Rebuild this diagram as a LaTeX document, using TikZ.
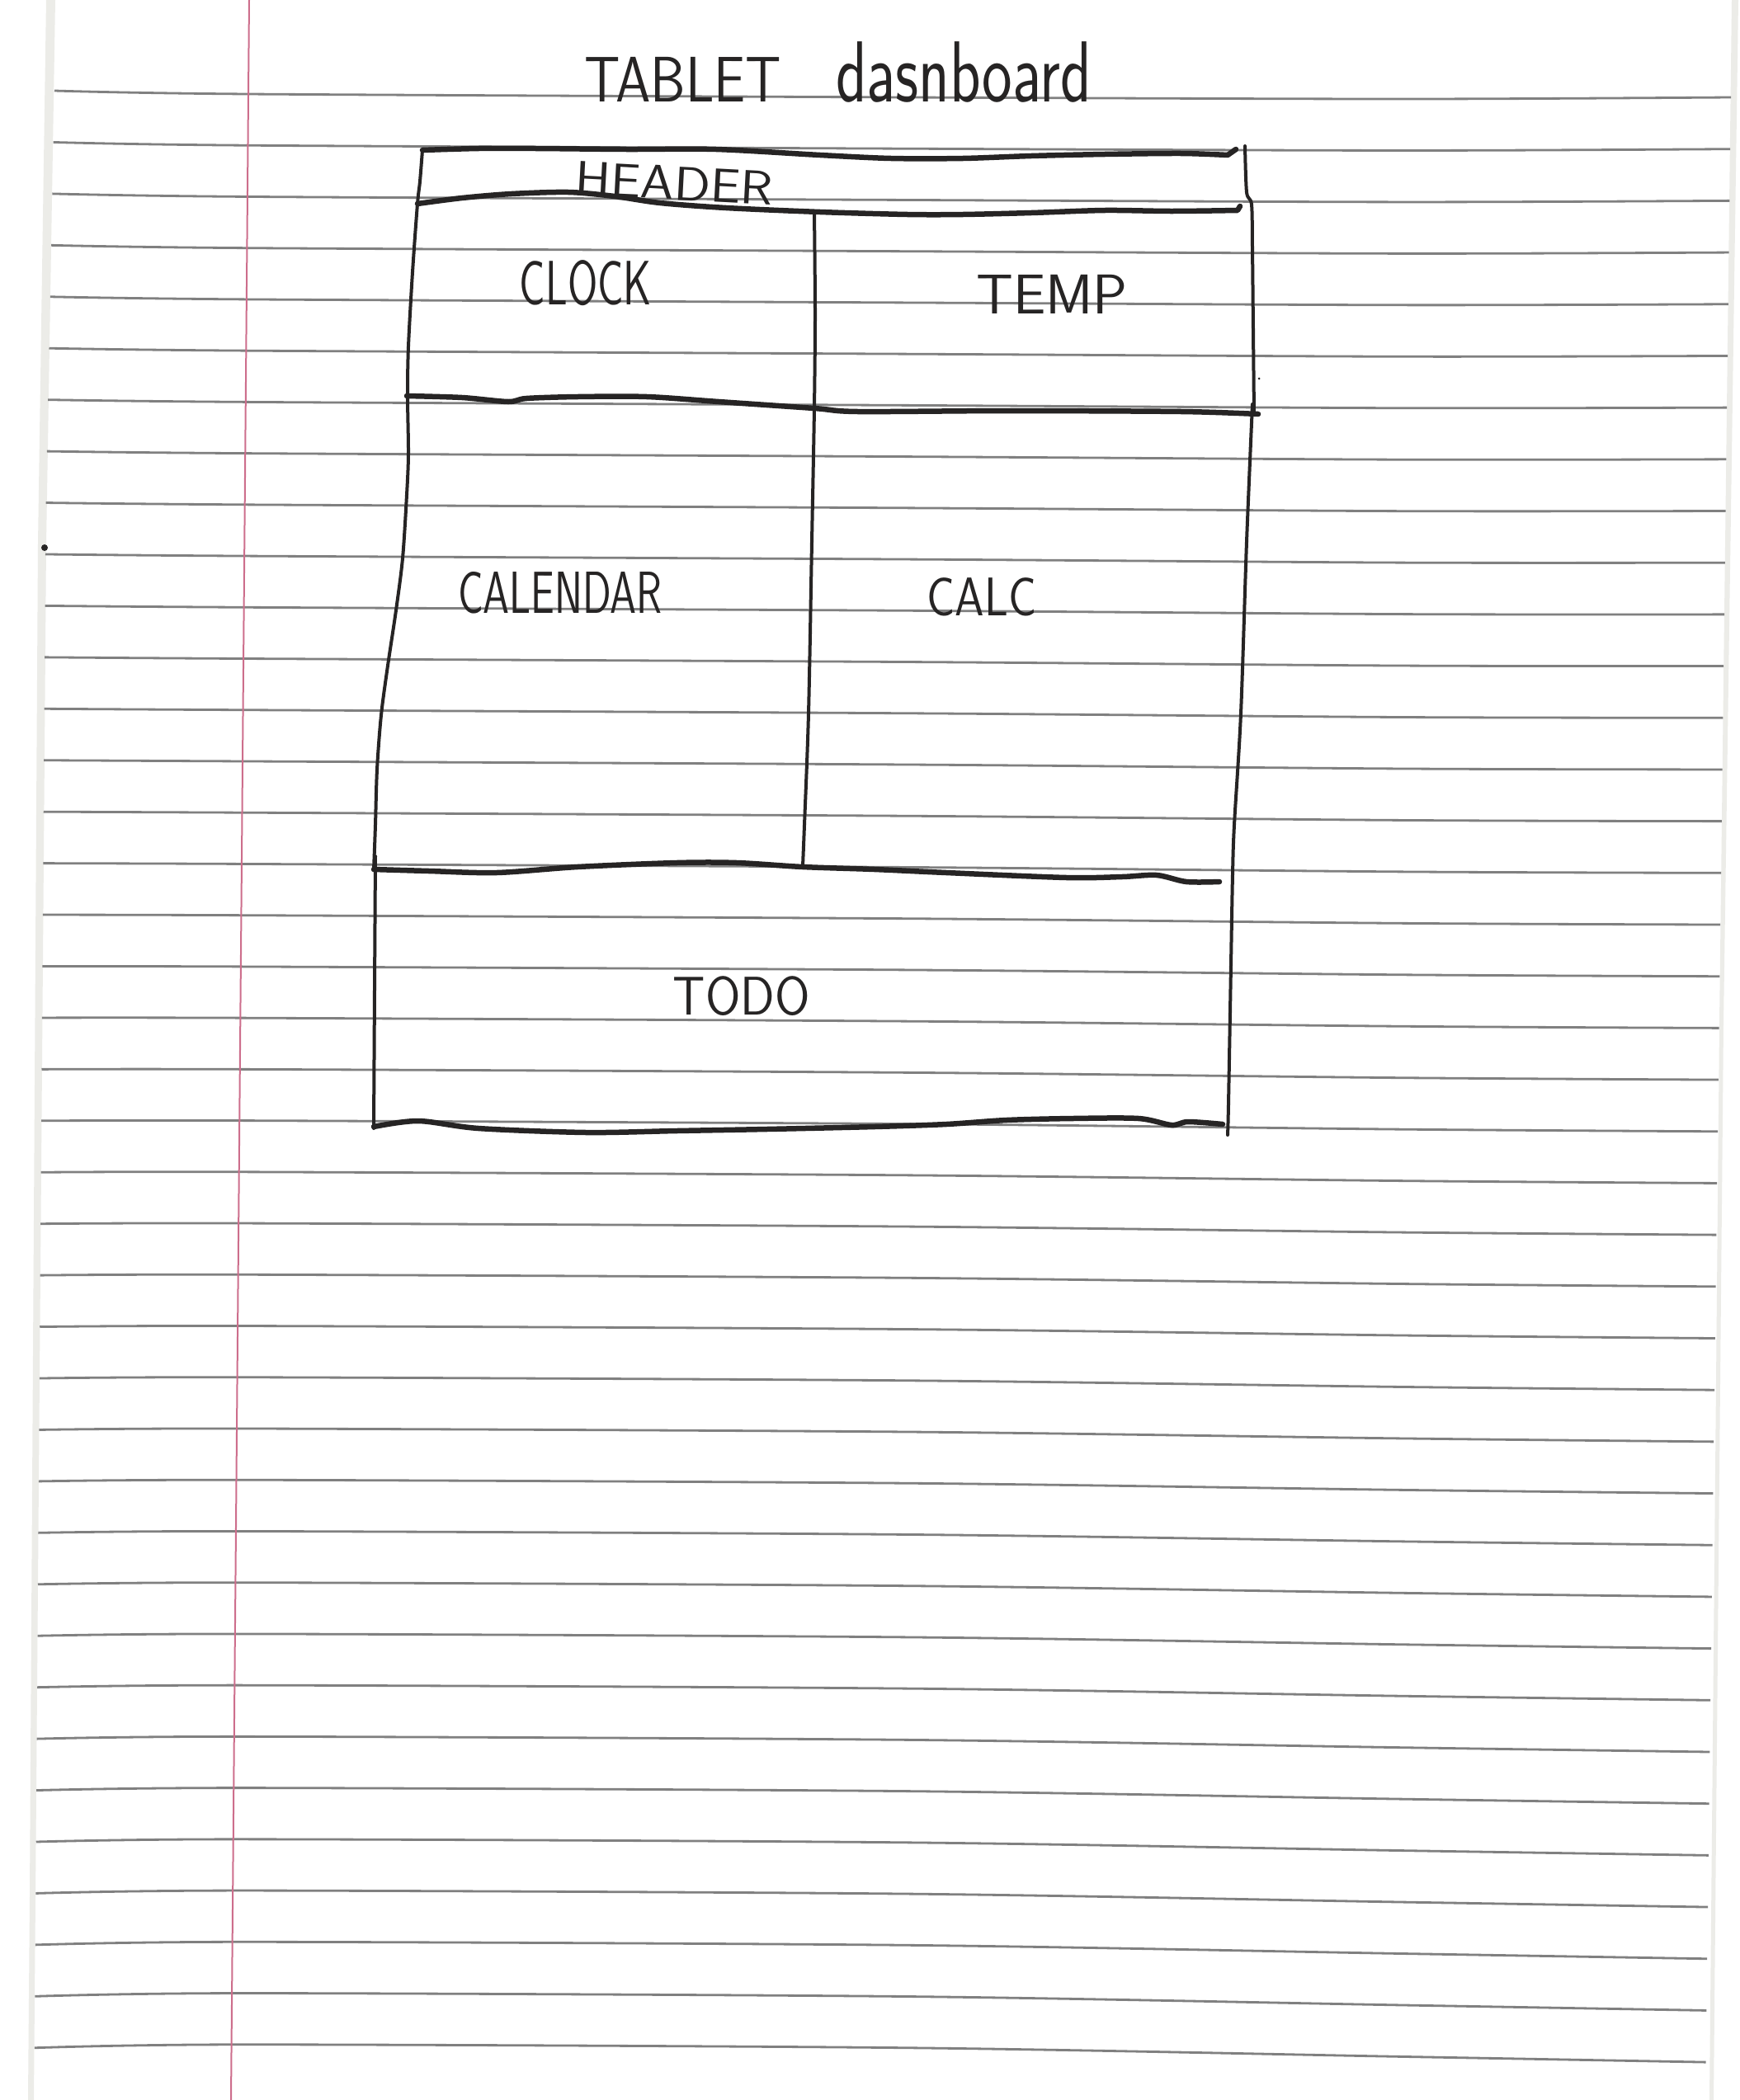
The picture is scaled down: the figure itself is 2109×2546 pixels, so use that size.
\documentclass[tikz,border=0pt]{standalone}
\usepackage{graphicx}
\definecolor{ink}{RGB}{38,36,36}
\definecolor{rulegray}{RGB}{128,128,128}
\definecolor{margincol}{RGB}{205,110,140}
\definecolor{edgegray}{RGB}{236,236,232}
\tikzset{
  ruled/.style={draw=rulegray, line width=2.8},
  marginline/.style={draw=margincol, line width=2},
  penh/.style={draw=ink, line width=6.5, line cap=round, line join=round},
  penv/.style={draw=ink, line width=4, line cap=round, line join=round},
  hand/.style={text=ink, inner sep=0pt, outer sep=0pt},
}
\begin{document}
\begin{tikzpicture}[x=1pt, y=-1pt]
\useasboundingbox (0,0) rectangle (2109,2546);
\fill[white] (0,0) rectangle (2109,2546);

% paper edges
\fill[edgegray] (56,0) -- (67,0) -- (56,660) -- (43,2300) -- (41,2546) -- (34,2546) -- (36,2300) -- (46,660) -- cycle;
\fill[edgegray] (2099,0) -- (2107,0) -- (2089,1240) -- (2077,2546) -- (2072,2546) -- (2084,1240) -- cycle;

% ruled lines of the notebook page
\foreach \k in {0,...,38} {
  \pgfmathsetmacro\ym{114+62.23*\k}
  \pgfmathsetmacro\xl{\k<9 ? 66-1.3*\k : 55-0.45*(\k-9)}
  \pgfmathsetmacro\yl{\ym-4+8*\k/38}
  \pgfmathsetmacro\xr{2098-0.8*\k}
  \pgfmathsetmacro\yr{\ym+4+16*\k/35}
  \pgfmathsetmacro\ya{\ym+4}
  \pgfmathsetmacro\yb{\ym+6+8*\k/35}
  \draw[ruled] plot[smooth] coordinates {(\xl,\yl) (300,\ym) (1100,\ya) (1700,\yb) (\xr,\yr)};
}

% red margin
\draw[marginline] (302,0) -- (280,2546);

% title
\node[hand, anchor=base west] (title) at (708,123)
  {\sffamily\scalebox{0.87}[1]{\fontsize{78}{78}\selectfont TABLET}\hspace{66pt}\scalebox{0.74}[1]{\fontsize{105}{105}\selectfont dasnboard}};

% horizontal strokes of the layout
\draw[penh] plot[smooth, tension=0.5] coordinates {(512,182) (580,180) (650,180) (760,181) (868,181) (994,188) (1080,192) (1167,192) (1250,189) (1339,187) (1432,186) (1488,188)} -- (1498,181);
\draw[penh] plot[smooth, tension=0.5] coordinates {(506,247) (560,240) (620,235) (689,233) (745,238) (800,246) (880,252) (994,257) (1100,260) (1167,260) (1250,258) (1339,255) (1420,256) (1500,255)} -- (1503,250);
\draw[penh] plot[smooth, tension=0.5] coordinates {(493,480) (560,482) (616,487) (638,483) (700,481) (784,481) (871,487) (987,495) (1040,499) (1222,498) (1432,499) (1525,502)};
\draw[penh] plot[smooth, tension=0.5] coordinates {(453,1054) (520,1056) (602,1058) (700,1051) (820,1046) (893,1046) (973,1051) (1060,1054) (1147,1058) (1293,1064) (1360,1063) (1402,1061) (1438,1069) (1478,1069)};
\draw[penh] plot[smooth, tension=0.5] coordinates {(453,1366) (507,1359) (580,1368) (711,1373) (820,1371) (929,1369) (1060,1366) (1147,1363) (1220,1358) (1300,1356) (1380,1356) (1420,1364) (1440,1360) (1482,1363)};

% vertical strokes of the layout
\draw[penv] plot[smooth] coordinates {(512,182) (509,220) (506,247) (500,330) (495,420) (494,480) (495,550) (493,600) (488,677) (480,740) (470,807) (462,867) (457,933) (455,1000) (453,1055)};
\draw[penv] (455,1038) -- (454,1200) -- (453,1368);
\draw[penv] plot[smooth] coordinates {(987,257) (988,380) (987,494) (984,657) (980,865) (975,1000) (973,1050)};
\draw[penv] plot[smooth] coordinates {(1509,177) (1511,233) (1517,248) (1518,300) (1519,400) (1520,503)};
\draw[penv] plot[smooth] coordinates {(1518,490) (1511,657) (1504,865) (1496,1000) (1494,1060) (1492,1170) (1489,1339) (1488,1376)};

% stray pen marks
\fill[ink] (54,664) circle (4);
\fill[ink] (1526,459) circle (1.5);

% section labels
\node[hand, rotate=-3, xscale=1.12, font=\sffamily\fontsize{58}{58}\selectfont] (header) at (817,222) {HEADER};
\node[hand, xscale=0.69, font=\sffamily\fontsize{76}{76}\selectfont] (clock) at (710,343) {CLOCK};
\node[hand, xscale=1.03, font=\sffamily\fontsize{68}{68}\selectfont] (temp) at (1275,357) {TEMP};
\node[hand, xscale=0.71, font=\sffamily\fontsize{72}{72}\selectfont] (calendar) at (679,719) {CALENDAR};
\node[hand, xscale=0.86, font=\sffamily\fontsize{66}{66}\selectfont] (calc) at (1190,724) {CALC};
\node[hand, xscale=0.93, font=\sffamily\fontsize{66}{66}\selectfont] (todo) at (899,1208) {TODO};
\end{tikzpicture}
\end{document}
